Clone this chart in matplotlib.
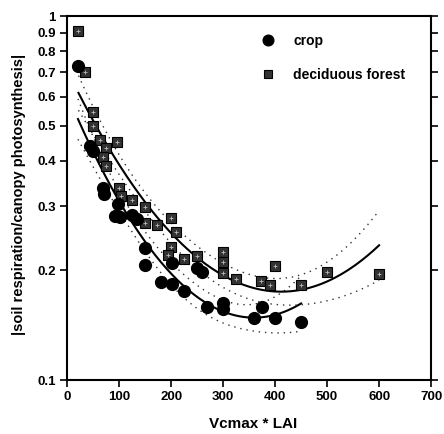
import numpy as np
import matplotlib
matplotlib.use("Agg")
import matplotlib.pyplot as plt
from matplotlib.ticker import FixedLocator, FixedFormatter, NullLocator

plt.rcParams['font.family'] = ['Liberation Sans', 'DejaVu Sans']
plt.rcParams['font.weight'] = 'bold'

# crop sites
crop_x = [21, 45, 50, 70, 72, 98, 93, 102, 125, 135, 150, 150, 181, 201, 202,
          225, 250, 260, 270, 300, 300, 360, 375, 400, 450]
crop_y = [0.73, 0.44, 0.425, 0.337, 0.325, 0.305, 0.283, 0.28, 0.284, 0.277,
          0.23, 0.207, 0.186, 0.184, 0.21, 0.176, 0.203, 0.198, 0.159, 0.163,
          0.157, 0.148, 0.159, 0.148, 0.144]

# deciduous forest sites
forest_x = [22, 35, 50, 50, 63, 75, 97, 70, 75, 99, 103, 125, 150, 150, 173,
            200, 210, 200, 195, 225, 250, 300, 300, 300, 325, 373, 390, 400,
            450, 500, 600]
forest_y = [0.91, 0.70, 0.545, 0.50, 0.455, 0.435, 0.45, 0.41, 0.387, 0.337,
            0.32, 0.312, 0.298, 0.27, 0.267, 0.278, 0.255, 0.232, 0.22, 0.215,
            0.219, 0.225, 0.211, 0.197, 0.19, 0.187, 0.182, 0.206, 0.182, 0.198,
            0.195]

yticks = [0.1, 0.2, 0.3, 0.4, 0.5, 0.6, 0.7, 0.8, 0.9, 1.0]
ytick_labels = ['0.1', '0.2', '0.3', '0.4', '0.5', '0.6', '0.7', '0.8', '0.9', '1']
xticks = [0, 100, 200, 300, 400, 500, 600, 700]


def quad_fit_log(x, y, npts=200):
    """Quadratic fit of log10(y) against x with 95% band of the mean"""
    x = np.asarray(x, float)
    ly = np.log10(np.asarray(y, float))
    X = np.column_stack([np.ones_like(x), x, x ** 2])
    beta, *_ = np.linalg.lstsq(X, ly, rcond=None)
    resid = ly - X @ beta
    dof = len(x) - 3
    s2 = resid @ resid / dof
    cov = s2 * np.linalg.inv(X.T @ X)
    xs = np.linspace(x.min(), x.max(), npts)
    Xs = np.column_stack([np.ones_like(xs), xs, xs ** 2])
    fit = Xs @ beta
    se = np.sqrt(np.einsum('ij,jk,ik->i', Xs, cov, Xs))
    t = 2.07
    return xs, 10 ** fit, 10 ** (fit - t * se), 10 ** (fit + t * se)


fig = plt.figure(figsize=(4.44, 4.34), dpi=100)
ax = fig.add_axes([0.151, 0.1244, 0.820, 0.8387])

for xs_, ys_ in [(crop_x, crop_y), (forest_x, forest_y)]:
    xs, fit, lo, hi = quad_fit_log(xs_, ys_)
    ax.plot(xs, fit, color='black', lw=1.5, zorder=2)
    ax.plot(xs, lo, color='#333333', lw=1.0, ls=(0, (1, 3.5)), zorder=2)
    ax.plot(xs, hi, color='#333333', lw=1.0, ls=(0, (1, 3.5)), zorder=2)

ax.plot(forest_x, forest_y, ls='none', marker='s', ms=7, mfc='#333333',
        mec='black', mew=0.8, zorder=3, label='deciduous forest')
ax.plot(forest_x, forest_y, ls='none', marker='+', ms=3, mec='#bbbbbb',
        mew=0.6, zorder=4)
ax.plot(crop_x, crop_y, ls='none', marker='o', ms=8.5, mfc='black',
        mec='black', zorder=5, label='crop')

ax.set_yscale('log')
ax.set_xlim(0, 700)
ax.set_ylim(0.1, 1.0)
ax.yaxis.set_major_locator(FixedLocator(yticks))
ax.yaxis.set_major_formatter(FixedFormatter(ytick_labels))
ax.yaxis.set_minor_locator(NullLocator())
ax.set_xticks(xticks)

ax.tick_params(axis='both', which='major', direction='out', length=5, width=1.2,
               labelsize=9.5, pad=3)
ax.tick_params(axis='y', right=True, labelright=False)
for lab in ax.get_xticklabels() + ax.get_yticklabels():
    lab.set_fontweight('bold')
for sp in ax.spines.values():
    sp.set_linewidth(1.5)

ax.set_xlabel('Vcmax * LAI', fontsize=11, fontweight='bold')
ax.set_ylabel('|soil respiration/canopy photosynthesis|', fontsize=10.5,
              fontweight='bold')
ax.xaxis.set_label_coords(0.511, -0.102)
ax.yaxis.set_label_coords(-0.112, 0.511)

handles, labels = ax.get_legend_handles_labels()
leg = ax.legend([handles[1], handles[0]], [labels[1], labels[0]],
                loc='upper left', bbox_to_anchor=(0.48, 0.985), frameon=False,
                fontsize=10, handletextpad=0.8, labelspacing=1.45,
                markerscale=0.9)
for txt in leg.get_texts():
    txt.set_fontweight('bold')

fig.savefig('out.png', dpi=100)
